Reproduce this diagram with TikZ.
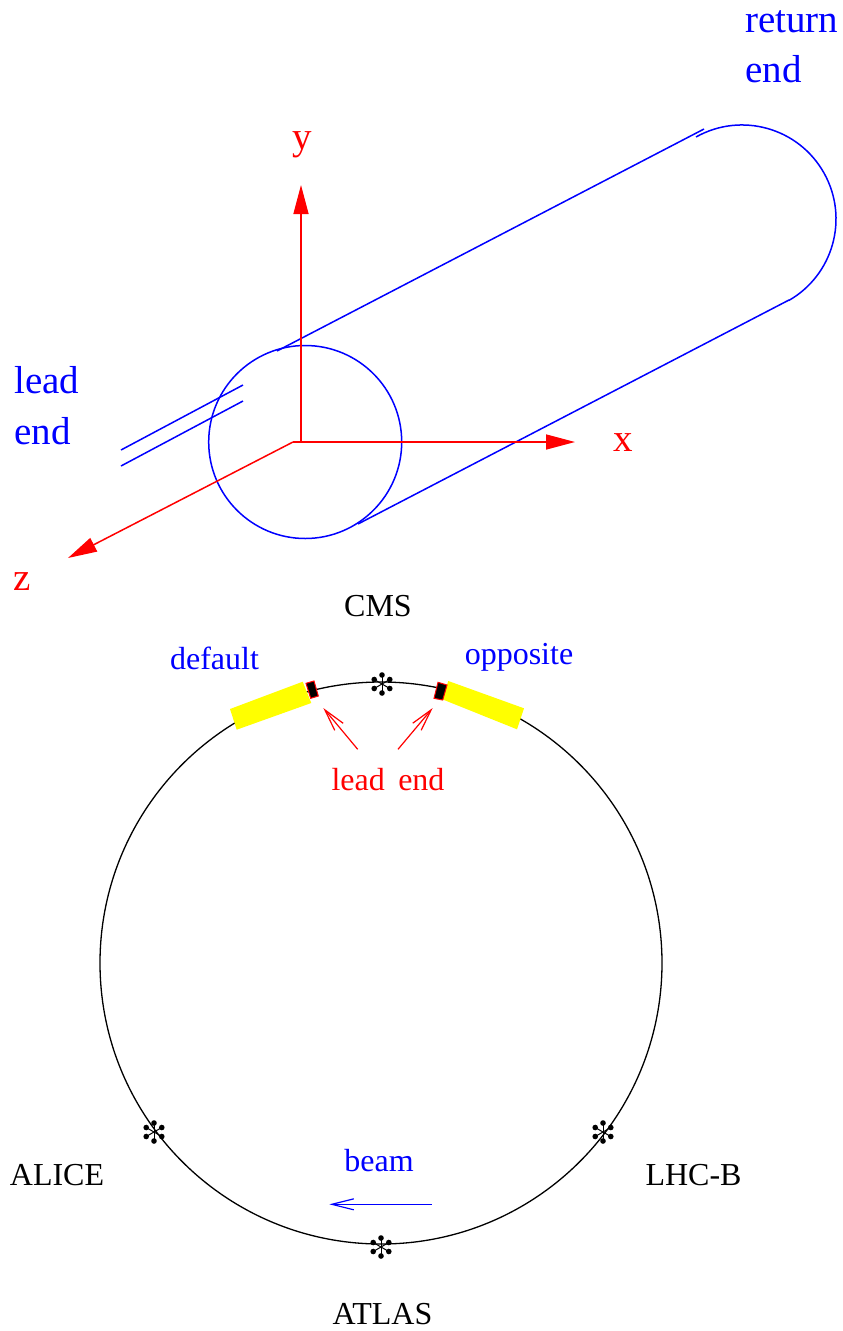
\documentclass[tikz,border=0pt]{standalone}
\usepackage{fontspec}
\setmainfont{Liberation Serif}
\usepackage{xcolor}
\usetikzlibrary{arrows.meta}
\definecolor{magnetyellow}{rgb}{1,1,0}

\begin{document}
\begin{tikzpicture}[x=1pt,y=-1pt,
		wire/.style={blue,line width=1.5pt},
		axis/.style={red,line width=1.5pt,-{Triangle[length=29pt,width=15pt]}},
		pointer/.style={line width=1.2pt,-{Straight Barb[length=22pt,width=11pt,line width=1.2pt]}},
		biglabel/.style={anchor=base,inner sep=0pt,font=\fontsize{39}{46}\selectfont},
		smalllabel/.style={anchor=base,inner sep=0pt,font=\fontsize{32}{38}\selectfont},
		magnet/.style={fill=magnetyellow},
		leadblock/.style={fill=black,draw=red,line width=1pt},
		ipmark/.pic={
			\foreach \a in {30,90,...,330} {
				\draw[black,line width=1pt] (0,0) -- (\a:9);
				\fill[black] (\a:9) circle[radius=2.8];
			}
		}]
	\useasboundingbox (0,0) rectangle (843,1331);
	% cable
	\coordinate (topA) at (277,351);
	\coordinate (topB) at (704,129);
	\coordinate (lowA) at (358,524);
	\coordinate (lowB) at (789,300);
	\coordinate (retA) at (696,137);
	\coordinate (leadA) at (121,450);
	\coordinate (leadB) at (243,385);
	\coordinate (leadC) at (121,466);
	\coordinate (leadD) at (243,401);
	\draw[wire] (305.2,442) circle[radius=96.5];
	\draw[wire] (topA) -- (topB);
	\draw[wire] (lowA) -- (lowB);
	\draw[wire] (retA) arc[start angle=119.3,end angle=-60.4,radius=94pt];
	\draw[wire] (leadA) -- (leadB);
	\draw[wire] (leadC) -- (leadD);
	% axes
	\coordinate (orig) at (293,442);
	\coordinate (yfoot) at (301,442);
	\coordinate (ytip) at (301,185);
	\coordinate (xtip) at (575,442);
	\coordinate (ztip) at (68,558);
	\draw[axis] (yfoot) -- (ytip);
	\draw[axis] (orig) -- (xtip);
	\draw[axis] (orig) -- (ztip);
	\node[biglabel,red] (ylabel) at (302,149) {y};
	\node[biglabel,red] (xlabel) at (623,451) {x};
	\node[biglabel,red] (zlabel) at (22,590) {z};
	\node[biglabel,blue,anchor=base west] (leadtop) at (14,393) {lead};
	\node[biglabel,blue,anchor=base west] (leadbot) at (14,444) {end};
	\node[biglabel,blue,anchor=base west] (rettop) at (745,32) {return};
	\node[biglabel,blue,anchor=base west] (retbot) at (745,82) {end};
	% ring
	\draw[black,line width=1.3pt] (381,963) circle[radius=281];
	\fill[magnet] (230,709) -- (302.7,681.7) -- (311.3,703) -- (236.7,729.7) -- cycle;
	\fill[magnet] (448.3,681) -- (524,708.3) -- (517,729.3) -- (442.3,699.3) -- cycle;
	\draw[leadblock] (306,683.3) -- (314,681) -- (318.3,696) -- (310.7,698.3) -- cycle;
	\draw[leadblock] (434,698.3) -- (442.7,700) -- (447,685) -- (438,682.3) -- cycle;
	\pic at (382,684) {ipmark};
	\pic at (154,1132) {ipmark};
	\pic at (603,1132) {ipmark};
	\pic at (381,1247) {ipmark};
	\node[smalllabel,black] (cms) at (378,616) {CMS};
	\node[smalllabel,black] (alice) at (57,1185) {ALICE};
	\node[smalllabel,black] (lhcb) at (693.5,1185) {LHC-B};
	\node[smalllabel,black] (atlas) at (382.5,1324) {ATLAS};
	\node[smalllabel,blue] (default) at (214.5,669) {default};
	\node[smalllabel,blue] (opposite) at (519,664) {opposite};
	\node[smalllabel,red] (leadend) at (388,790) {lead\hspace{0.42em}end};
	\node[smalllabel,blue] (beam) at (379,1171) {beam};
	\coordinate (ptrLa) at (357.7,749.3);
	\coordinate (ptrLb) at (323.3,708);
	\coordinate (ptrRa) at (398,749.3);
	\coordinate (ptrRb) at (432.7,708);
	\coordinate (beamA) at (431.7,1204.3);
	\coordinate (beamB) at (329.3,1204.3);
	\draw[pointer,red] (ptrLa) -- (ptrLb);
	\draw[pointer,red] (ptrRa) -- (ptrRb);
	\draw[pointer,blue] (beamA) -- (beamB);
\end{tikzpicture}
\end{document}
